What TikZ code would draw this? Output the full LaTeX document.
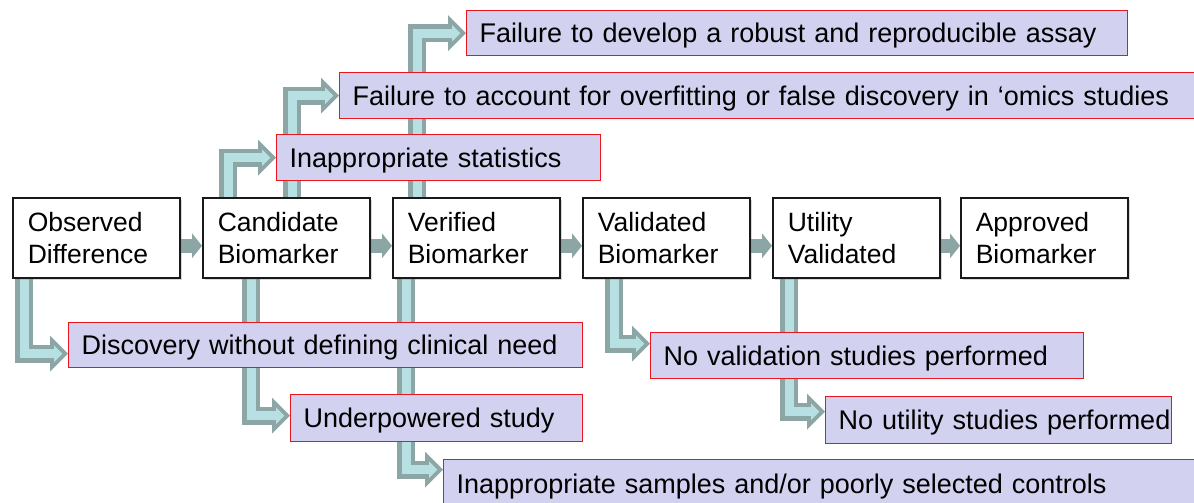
\documentclass[tikz,border=0pt]{standalone}
\usepackage{fontspec}
\setmainfont{Liberation Sans}
\newfontfamily\boxfont[WordSpace=1.6]{Liberation Sans}
\usetikzlibrary{arrows.meta,shadows,backgrounds}
\definecolor{agrey}{HTML}{8CA6A6}
\definecolor{alight}{HTML}{B7E0E2}
\definecolor{lav}{HTML}{D2D2F0}
\definecolor{bred}{HTML}{E8161E}
\newcommand\elbowarrow[2]{\draw[outerarr] #1 |- #2; \draw[innerarr] #1 |- #2;}
\begin{document}
\begin{tikzpicture}[x=1pt,y=-1pt,
  mainbox/.style={draw=black!90, line width=1.6pt, fill=white, anchor=north west,
    minimum width=167pt, minimum height=80pt, inner xsep=15pt, inner ysep=0pt,
    text width=137pt, align=left, text height=19.2pt, text depth=32.5pt,
    font=\fontsize{26.5pt}{32.5pt}\selectfont,
    drop shadow={shadow xshift=2.5pt, shadow yshift=-2.5pt, opacity=0.3}},
  redbox/.style={draw=bred, line width=1.4pt, fill=lav, anchor=north west,
    inner xsep=13pt, inner ysep=0pt, align=left, text height=19.4pt, text depth=0pt,
    font=\boxfont\fontsize{27pt}{32.5pt}\selectfont},
  outerarr/.style={draw=agrey, line width=18pt,
    -{Triangle[length=18pt,width=36pt,line width=0pt]}},
  innerarr/.style={draw=alight, line width=9pt, shorten >=5.7pt,
    -{Triangle[length=8.3pt,width=16.6pt,line width=0pt]}},
  smallarr/.style={draw=agrey, line width=14pt,
    -{Triangle[length=10pt,width=25pt,line width=0pt]}}
]
\useasboundingbox (0,0) rectangle (1194,503);
\clip (0,0) rectangle (1194,503);

% main stages
\node[mainbox] (obs)  at (12,197)  {Observed\\Difference};
\node[mainbox] (cand) at (202,197) {Candidate\\Biomarker};
\node[mainbox] (ver)  at (392,197) {Verified\\Biomarker};
\node[mainbox] (val)  at (582,197) {Validated\\Biomarker};
\node[mainbox] (util) at (772,197) {Utility\\Validated};
\node[mainbox] (appr) at (960,197) {Approved\\Biomarker};

% failure boxes
\node[redbox, text width=635pt, minimum height=45pt] (dev)   at (466,10)  {\mbox{Failure to develop a robust and reproducible assay}};
\node[redbox, text width=854pt, minimum height=46pt] (acct)  at (339,72)  {\mbox{Failure to account for overfitting or false discovery in ‘omics studies}};
\node[redbox, text width=298pt, minimum height=46pt] (stat)  at (276,134) {\mbox{Inappropriate statistics}};
\node[redbox, text width=488pt, minimum height=45pt] (disc)  at (68,322)  {\mbox{Discovery without defining clinical need}};
\node[redbox, text width=266pt, minimum height=47pt] (under) at (290,394) {\mbox{Underpowered study}};
\node[redbox, text width=744pt, minimum height=48pt] (samp)  at (443,459) {\mbox{Inappropriate samples and/or poorly selected controls}};
\node[redbox, text width=407pt, minimum height=46pt] (noval) at (650,332) {\mbox{No validation studies performed}};
\node[redbox, text width=320pt, minimum height=47pt] (noutil) at (825,396) {\mbox{No utility studies performed}};

\begin{pgfonlayer}{background}
% stage arrows
\draw[smallarr] ([yshift=-8pt]obs.east)  -- ([yshift=-8pt]cand.west);
\draw[smallarr] ([yshift=-8pt]cand.east) -- ([yshift=-8pt]ver.west);
\draw[smallarr] ([yshift=-8pt]ver.east)  -- ([yshift=-8pt]val.west);
\draw[smallarr] ([yshift=-8pt]val.east)  -- ([yshift=-8pt]util.west);
\draw[smallarr] ([yshift=-8pt]util.east) -- ([yshift=-8pt]appr.west);
% failure arrows (below)
\elbowarrow{([xshift=12pt]obs.south west)}{([yshift=-8.5pt]disc.west)}
\elbowarrow{([xshift=49pt]cand.south west)}{([yshift=2.5pt]under.west)}
\elbowarrow{([xshift=14pt]ver.south west)}{([yshift=14pt]samp.west)}
\elbowarrow{([xshift=32pt]val.south west)}{([yshift=12pt]noval.west)}
\elbowarrow{([xshift=17pt]util.south west)}{([yshift=8.5pt]noutil.west)}
% failure arrows (above)
\elbowarrow{([xshift=26pt]cand.north west)}{(stat.west)}
\elbowarrow{([xshift=90pt]cand.north west)}{(acct.west)}
\elbowarrow{([xshift=25pt]ver.north west)}{(dev.west)}
\end{pgfonlayer}
\end{tikzpicture}
\end{document}
